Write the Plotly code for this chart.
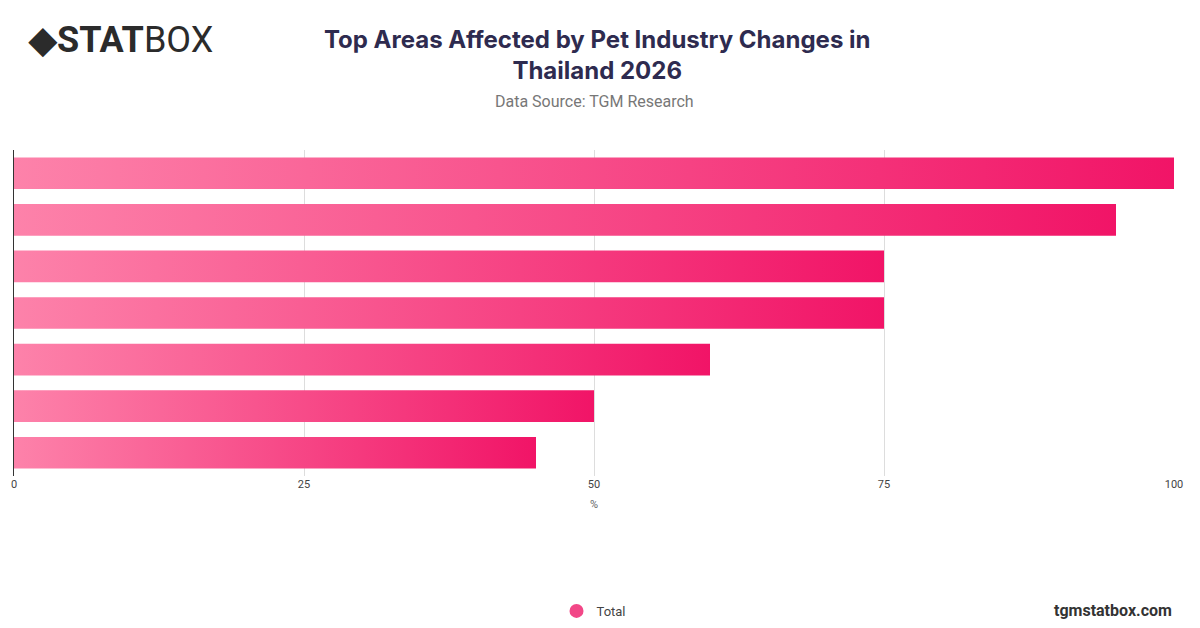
import plotly.graph_objects as go

# values (top to bottom)
areas = ["Area 1", "Area 2", "Area 3", "Area 4", "Area 5", "Area 6", "Area 7"]
values = [100, 95, 75, 75, 60, 50, 45]
tick_vals = [0, 25, 50, 75, 100]

fig = go.Figure()
half = 0.34
for i, (name, v) in enumerate(zip(areas, values)):
    fig.add_trace(go.Scatter(
        x=[0, v, v, 0, 0], y=[i - half, i - half, i + half, i + half, i - half],
        mode="lines", line=dict(width=0), fill="toself",
        fillgradient=dict(type="horizontal",
                          colorscale=[[0, "#fd82aa"], [1, "#f11467"]]),
        name=name, showlegend=False, hoverinfo="text",
        text=f"{name}: {v}%",
    ))

# legend entry
fig.add_trace(go.Scatter(x=[None], y=[None], mode="markers", name="Total",
                         marker=dict(size=14, color="#f24787")))

# plot area: 142..468 (fig px), height 326
fig.update_layout(
    width=1200, height=628,
    paper_bgcolor="white", plot_bgcolor="white",
    margin=dict(l=6, r=34, t=142, b=160, autoexpand=False),
    title=dict(text="<b>Top Areas Affected by Pet Industry Changes in<br>Thailand 2026</b>",
               x=0.491, xanchor="center", y=0.936, yanchor="top",
               font=dict(family="Inter, Roboto, sans-serif", size=24, color="#2e2b4f")),
    font=dict(family="Roboto, sans-serif", color="#555"),
    legend=dict(orientation="h", x=0.5, xanchor="center", y=-0.414, yanchor="middle",
                font=dict(size=13, color="#444")),
    xaxis=dict(range=[0, 100], tickvals=tick_vals, showgrid=True, gridcolor="#dddddd",
               zeroline=False, ticks="", tickfont=dict(size=11, color="#444"),
               automargin=False,
               title=dict(text="%", font=dict(size=11, color="#666"), standoff=10)),
    yaxis=dict(range=[6.5, -0.5], showticklabels=False, showgrid=False, zeroline=False,
               automargin=False, showline=True, linecolor="#333", linewidth=1),
)

fig.add_annotation(text="Data Source: TGM Research", xref="paper", yref="paper",
                   x=0.5, y=1.15, xanchor="center", yanchor="middle", showarrow=False,
                   font=dict(size=16, color="#777"))
fig.add_annotation(text="<b>◆STAT</b>BOX", xref="paper", yref="paper",
                   x=0.01, y=1.337, xanchor="left", yanchor="middle", showarrow=False,
                   font=dict(size=36, color="#2b2b2b", family="Roboto, sans-serif"))
fig.add_annotation(text="<b>tgmstatbox.com</b>", xref="paper", yref="paper",
                   x=1.0, y=-0.414, xanchor="right", yanchor="middle", showarrow=False,
                   font=dict(size=16, color="#333"))

fig.write_html("out.html")
